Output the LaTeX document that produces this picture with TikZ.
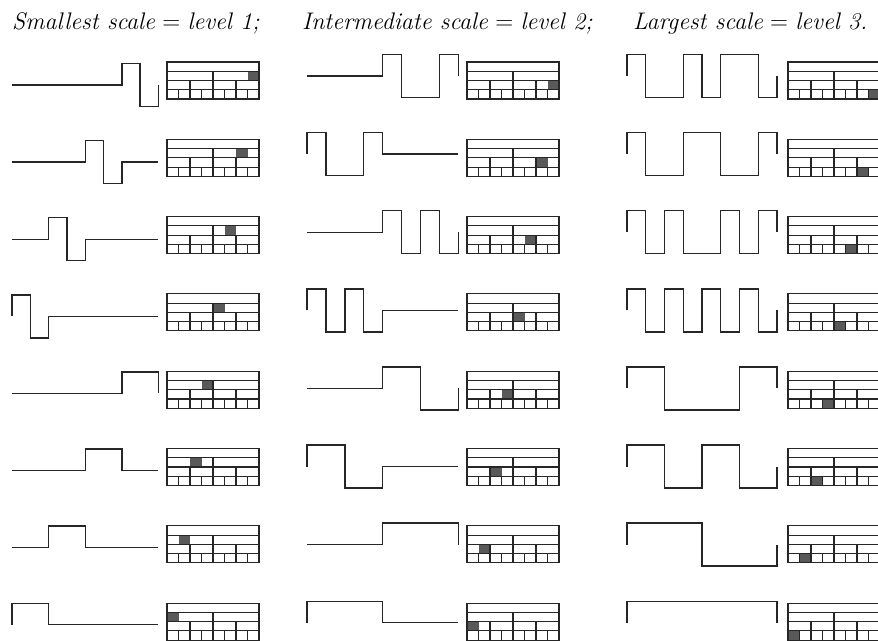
\documentclass[tikz,border=0pt]{standalone}
\usepackage{tikz}

\begin{document}
\begin{tikzpicture}[
    x=1pt, y=-1pt,
    wave/.style={line width=1.4pt, draw=black!85, line join=miter},
    gridline/.style={line width=1.1pt, draw=black!85},
    hit/.style={fill=black!65},
    title/.style={anchor=base west, inner sep=0pt,
                  font=\fontsize{24}{28}\selectfont}
  ]
  \useasboundingbox (0,0) rectangle (878,640);
  \clip (0,0) rectangle (878,640);

  % headings
  \node[title] (lev1) at (12,29)  {\textit{Smallest scale} $=$ \textit{level 1;}};
  \node[title] (lev2) at (302,29) {\textit{Intermediate scale} $=$ \textit{level 2;}};
  \node[title] (lev3) at (633,29) {\textit{Largest scale} $=$ \textit{level 3.}};

  % level 1 waveforms
  \foreach \vals [count=\r] in {{0,0,0,0,0,0,1,-1},{0,0,0,0,1,-1,0,0},
      {0,0,1,-1,0,0,0,0},{1,-1,0,0,0,0,0,0},{0,0,0,0,0,0,1,1},
      {0,0,0,0,1,1,0,0},{0,0,1,1,0,0,0,0},{1,1,0,0,0,0,0,0}} {
    \pgfmathsetmacro\ya{85+(\r-1)*77.1}
    \draw[wave] (12,\ya) \foreach \v [count=\i from 0] in \vals {
        -- ({12+\i*18.3},{\ya-21.5*\v}) -- ({12+(\i+1)*18.3},{\ya-21.5*\v}) }
      -- ({12+8*18.3},\ya);
  }

  % level 2 waveforms
  \foreach \vals [count=\r] in {{0,0,0,0,1,-1,-1,1},{1,-1,-1,1,0,0,0,0},
      {0,0,0,0,1,-1,1,-1},{1,-1,1,-1,0,0,0,0},{0,0,0,0,1,1,-1,-1},
      {1,1,-1,-1,0,0,0,0},{0,0,0,0,1,1,1,1},{1,1,1,1,0,0,0,0}} {
    \pgfmathsetmacro\ya{76+(\r-1)*78.1}
    \draw[wave] (307,\ya) \foreach \v [count=\i from 0] in \vals {
        -- ({307+\i*18.9},{\ya-21.5*\v}) -- ({307+(\i+1)*18.9},{\ya-21.5*\v}) }
      -- ({307+8*18.9},\ya);
  }

  % level 3 waveforms
  \foreach \vals [count=\r] in {{1,-1,-1,1,-1,1,1,-1},{1,-1,-1,1,1,-1,-1,1},
      {1,-1,1,-1,-1,1,-1,1},{1,-1,1,-1,1,-1,1,-1},{1,1,-1,-1,-1,-1,1,1},
      {1,1,-1,-1,1,1,-1,-1},{1,1,1,1,-1,-1,-1,-1},{1,1,1,1,1,1,1,1}} {
    \pgfmathsetmacro\ya{76+(\r-1)*78.1}
    \draw[wave] (627,\ya) \foreach \v [count=\i from 0] in \vals {
        -- ({627+\i*18.75},{\ya-21.5*\v}) -- ({627+(\i+1)*18.75},{\ya-21.5*\v}) }
      -- ({627+8*18.75},\ya);
  }

  % coefficient tables
  \foreach \c/\tx in {1/167, 2/467, 3/788}
    \foreach \r in {1,...,8} {
      \pgfmathsetmacro\ty{62+(\r-1)*77.3}
      \fill[hit] ({\tx+(8-\r)*11.5},{\ty+\c*9.25}) rectangle ++(11.5,9.25);
      \draw[gridline] (\tx,\ty) rectangle ++(92,37);
      \foreach \k in {1,2,3}
        \draw[gridline] (\tx,{\ty+\k*9.25}) -- ++(92,0);
      \draw[gridline] ({\tx+46},{\ty+9.25}) -- ++(0,27.75);
      \foreach \k in {23,69}
        \draw[gridline] ({\tx+\k},{\ty+18.5}) -- ++(0,18.5);
      \foreach \k in {11.5,34.5,57.5,80.5}
        \draw[gridline] ({\tx+\k},{\ty+27.75}) -- ++(0,9.25);
    }
\end{tikzpicture}
\end{document}
